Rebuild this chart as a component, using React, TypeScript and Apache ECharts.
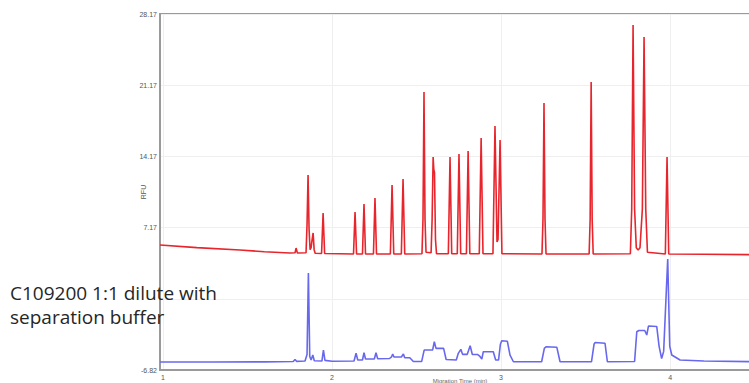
import React, { useEffect, useRef } from 'react';
import * as echarts from 'echarts';

// Migration time (min), RFU
const redTrace: [number, number][] = [
  [0.982, 5.46], [1.2, 5.2], [1.455, 4.97], [1.6, 4.8], [1.75, 4.68],
  [1.781, 4.7], [1.787, 5.16], [1.795, 4.68],
  [1.846, 4.7], [1.852, 7.5], [1.858, 12.34], [1.864, 7.0], [1.870, 5.0],
  [1.876, 5.2], [1.882, 6.0], [1.888, 6.64], [1.894, 5.0], [1.900, 4.65],
  [1.938, 4.62], [1.947, 8.6], [1.956, 4.62],
  [2.127, 4.57], [2.136, 8.7], [2.145, 4.57],
  [2.180, 4.57], [2.189, 9.49], [2.198, 4.57],
  [2.245, 4.57], [2.254, 10.08], [2.263, 4.57],
  [2.345, 4.57], [2.355, 11.36], [2.365, 4.57],
  [2.410, 4.57], [2.420, 11.95], [2.430, 4.57],
  [2.532, 4.6], [2.538, 8.0], [2.544, 20.5], [2.550, 8.0], [2.556, 4.75],
  [2.586, 4.7], [2.592, 8.0], [2.598, 14.11], [2.602, 12.9], [2.606, 12.6], [2.612, 6.0], [2.618, 4.6],
  [2.688, 4.6], [2.698, 14.11], [2.708, 4.6],
  [2.741, 4.6], [2.751, 14.4], [2.761, 4.6],
  [2.795, 4.6], [2.805, 14.7], [2.815, 4.6],
  [2.871, 4.6], [2.882, 15.98], [2.893, 4.6],
  [2.952, 4.6], [2.964, 17.16], [2.976, 5.75], [2.982, 6.0], [2.994, 15.78], [3.005, 4.6],
  [3.242, 4.57], [3.248, 8.0], [3.254, 19.42], [3.260, 8.0], [3.266, 4.57],
  [3.521, 4.57], [3.527, 8.0], [3.533, 21.48], [3.539, 8.0], [3.545, 4.57],
  [3.765, 4.6], [3.773, 9.0], [3.781, 27.09], [3.790, 9.0], [3.800, 5.2],
  [3.811, 4.97], [3.822, 5.2], [3.836, 9.0], [3.846, 25.91], [3.856, 9.0], [3.866, 4.75],
  [3.972, 4.57], [3.982, 14.11], [3.992, 4.57],
  [4.2, 4.55], [4.532, 4.5],
];

const blueTrace: [number, number][] = [
  [0.982, -6.05], [1.3, -6.04], [1.6, -6.03], [1.77, -6.0], [1.781, -5.8], [1.79, -5.98],
  [1.84, -5.95], [1.852, -5.3], [1.860, 2.70], [1.868, -5.5], [1.876, -5.85],
  [1.886, -5.36], [1.895, -5.92], [1.94, -5.95], [1.949, -4.87], [1.958, -5.88],
  [2.0, -5.97], [2.13, -5.95], [2.142, -5.19], [2.152, -5.85], [2.18, -5.85],
  [2.189, -5.13], [2.198, -5.75], [2.25, -5.75], [2.26, -5.13], [2.27, -5.72],
  [2.34, -5.7], [2.352, -5.53], [2.359, -5.26], [2.366, -5.55], [2.41, -5.55],
  [2.422, -5.26], [2.43, -5.63], [2.46, -5.63], [2.481, -6.0], [2.53, -6.0],
  [2.545, -4.87], [2.595, -4.87], [2.605, -4.05], [2.615, -4.7], [2.66, -4.7],
  [2.675, -5.8], [2.735, -5.85], [2.747, -5.19], [2.762, -4.80], [2.772, -5.29],
  [2.8, -5.29], [2.817, -4.44], [2.83, -5.3], [2.86, -5.3], [2.875, -5.5],
  [2.886, -5.75], [2.895, -5.03], [2.954, -5.03], [2.968, -5.85], [2.985, -5.85],
  [2.996, -4.3], [3.004, -3.95], [3.037, -4.0], [3.053, -5.36], [3.073, -6.02],
  [3.24, -6.02], [3.256, -4.7], [3.266, -4.54], [3.33, -4.6], [3.349, -6.02],
  [3.535, -6.02], [3.55, -4.3], [3.556, -4.13], [3.615, -4.2], [3.629, -6.02],
  [3.79, -6.0], [3.803, -3.07], [3.815, -2.95], [3.85, -2.95], [3.862, -3.39],
  [3.872, -2.51], [3.921, -2.55], [3.935, -4.5], [3.95, -5.7], [3.962, -5.0],
  [3.986, 4.08], [3.998, -4.5], [4.01, -5.36], [4.059, -5.85], [4.2, -5.95], [4.532, -6.02],
];

const yTickLabels = ['-6.82', '', '7.17', '14.17', '21.17', '28.17'];
const xTickLabels = ['1', '2', '3', '4'];
const annotationLines = ['C109200 1:1 dilute with', 'separation buffer'];

export default function App() {
  const ref = useRef<HTMLDivElement>(null);
  useEffect(() => {
    const chart = echarts.init(ref.current!, null, { renderer: 'svg' });
    chart.setOption({
      animation: false,
      backgroundColor: '#ffffff',
      grid: {
        left: 160, top: 14, width: 600, height: 356,
        outerBoundsMode: 'none', containLabel: false,
        show: true, borderColor: '#9a9a9a', borderWidth: 2, backgroundColor: '#ffffff',
      },
      xAxis: {
        type: 'value', min: 0.982, max: 4.532, splitNumber: 3,
        name: 'Migration Time (min)', nameLocation: 'middle', nameGap: 8, nameMoveOverlap: false,
        nameTextStyle: { fontSize: 6, color: '#666', fontFamily: 'Liberation Sans' },
        axisLine: { show: true, onZero: false, lineStyle: { color: '#9a9a9a', width: 2 } },
        axisTick: { show: false },
        axisLabel: {
          fontSize: 7, color: '#555', margin: 4, fontFamily: 'Liberation Sans',
          showMinLabel: false, showMaxLabel: false,
          formatter: (v: number) => {
            const r = Math.round(v);
            return Math.abs(v - r) < 1e-6 && r >= 1 && r <= 4 ? xTickLabels[r - 1] : '';
          },
        },
        splitLine: { show: true, lineStyle: { color: '#efefef', width: 1 } },
      },
      yAxis: {
        type: 'value', min: -6.83, max: 28.17, interval: 7,
        name: 'RFU', nameLocation: 'middle', nameGap: 13, nameRotate: 90, nameMoveOverlap: false,
        nameTextStyle: { fontSize: 7, color: '#555', fontFamily: 'Liberation Sans' },
        axisLine: { show: true, onZero: false, lineStyle: { color: '#9a9a9a', width: 2 } },
        axisTick: { show: false },
        axisLabel: {
          fontSize: 7, color: '#555', margin: 3, fontFamily: 'Liberation Sans',
          formatter: (v: number) => {
            const i = Math.round((v + 6.83) / 7);
            return yTickLabels[i] ?? '';
          },
        },
        splitLine: { show: true, lineStyle: { color: '#efefef', width: 1 } },
      },
      series: [
        {
          type: 'line', data: redTrace, showSymbol: false, silent: true,
          lineStyle: { color: '#e8242c', width: 1.6 },
        },
        {
          type: 'line', data: blueTrace, showSymbol: false, silent: true,
          lineStyle: { color: '#6868ee', width: 1.6 },
        },
      ],
      graphic: annotationLines.map((line, i) => ({
        type: 'text', left: 10, top: 283 + i * 24, z: 100,
        style: {
          text: line,
          fontSize: 19, fill: '#262626',
          fontFamily: '"Open Sans", "Noto Sans", sans-serif',
        },
      })),
    });
    return () => chart.dispose();
  }, []);
  return (
    <div style={{ position: 'fixed', left: 0, top: 0, width: 749, height: 383, overflow: 'hidden', background: '#fff' }}>
      <div ref={ref} style={{ width: 780, height: 383 }} />
    </div>
  );
}
